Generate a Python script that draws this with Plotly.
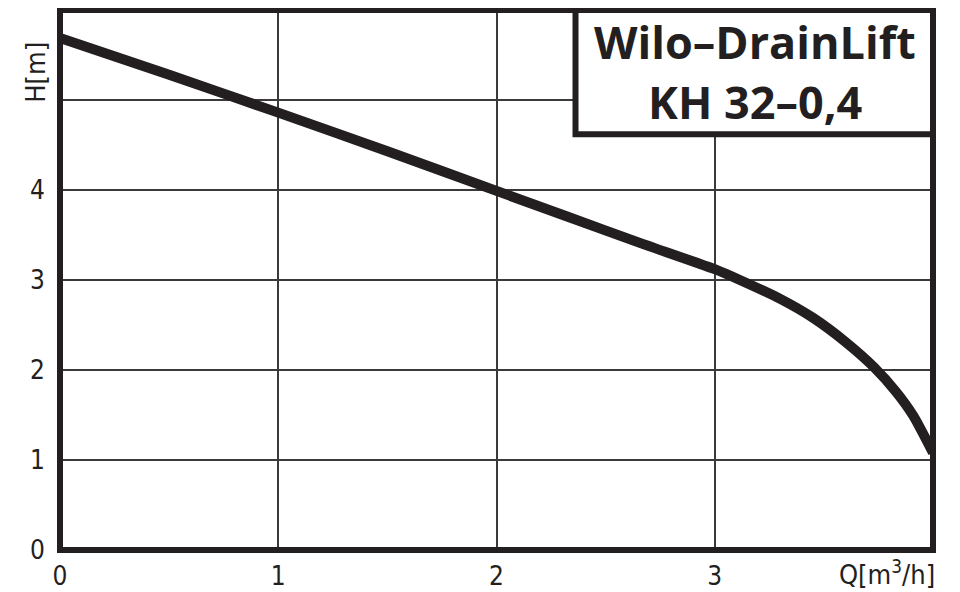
import plotly.graph_objects as go

# Data
flow_q = [0, 0.5, 1, 1.5, 2, 2.33, 2.66, 3.0, 3.115, 3.3, 3.45, 3.6, 3.73, 3.83, 3.91, 4.0]
head_h = [5.69, 5.28, 4.86, 4.43, 3.99, 3.70, 3.41, 3.12, 3.0, 2.79, 2.58, 2.31, 2.03, 1.76, 1.49, 1.08]
x_tick_vals = [0, 1, 2, 3]
x_tick_text = ["0", "1", "2", "3"]
y_tick_vals = [0, 1, 2, 3, 4]
y_tick_text = ["0", "1", "2", "3", "4"]
y_extra_grid = [5]
title_lines = ["Wilo–DrainLift", "KH 32–0,4"]
x_axis_label = "Q[m<sup>3</sup>/h]"
y_axis_label = "H[m]"

INK = "#231f20"
GRID = "#3a3a3a"
TICKFONT = dict(family="DejaVu Sans Condensed, DejaVu Sans", size=26, color=INK)
LABELFONT = dict(family="DejaVu Sans Condensed, DejaVu Sans", size=27, color=INK)

fig = go.Figure()
fig.add_trace(go.Scatter(
    x=flow_q, y=head_h, mode="lines",
    line=dict(color=INK, width=10, shape="spline", smoothing=0.6),
    hoverinfo="skip", showlegend=False,
))

# The page body adds an 8px offset; compensate with figure size and margins.
fig.update_layout(
    width=952, height=584,
    margin=dict(l=52, r=27, t=2, b=42, autoexpand=False),
    paper_bgcolor="white", plot_bgcolor="white",
    showlegend=False,
    xaxis=dict(
        range=[0, 4], tickvals=x_tick_vals, ticktext=x_tick_text,
        showgrid=True, gridcolor=GRID, gridwidth=1.5,
        zeroline=False, showline=False, ticks="", ticklabelstandoff=8,
        tickfont=TICKFONT, automargin=False,
    ),
    yaxis=dict(
        range=[0, 6], tickvals=y_tick_vals, ticktext=y_tick_text,
        showgrid=True, gridcolor=GRID, gridwidth=1.5,
        minor=dict(tickvals=y_extra_grid, showgrid=True, gridcolor=GRID, gridwidth=1.5, ticks=""),
        zeroline=False, showline=False, ticks="", ticklabelstandoff=14,
        tickfont=TICKFONT, automargin=False,
    ),
    shapes=[
        dict(type="rect", xref="x domain", yref="y domain", x0=0, x1=1, y0=0, y1=1,
             line=dict(color=INK, width=6), fillcolor="rgba(0,0,0,0)", layer="above"),
        dict(type="rect", xref="paper", yref="paper", x0=0.5905, x1=1.0, y0=0.77, y1=1.0,
             line=dict(color=INK, width=6), fillcolor="white", layer="above"),
    ],
    annotations=[
        dict(text=title_lines[0], xref="paper", yref="paper", x=0.796, y=0.941,
             showarrow=False, xanchor="center", yanchor="middle",
             font=dict(family="Open Sans", size=45, color=INK, weight="bold")),
        dict(text=title_lines[1], xref="paper", yref="paper", x=0.796, y=0.830,
             showarrow=False, xanchor="center", yanchor="middle",
             font=dict(family="Open Sans", size=45, color=INK, weight="bold")),
        dict(text=y_axis_label, xref="paper", yref="paper", x=-0.029, y=0.885,
             showarrow=False, textangle=-90, xanchor="center", yanchor="middle",
             font=LABELFONT),
        dict(text=x_axis_label, xref="paper", yref="paper", x=1.005, y=-0.042,
             showarrow=False, xanchor="right", yanchor="middle",
             font=LABELFONT),
    ],
)

fig.write_html("out.html")
